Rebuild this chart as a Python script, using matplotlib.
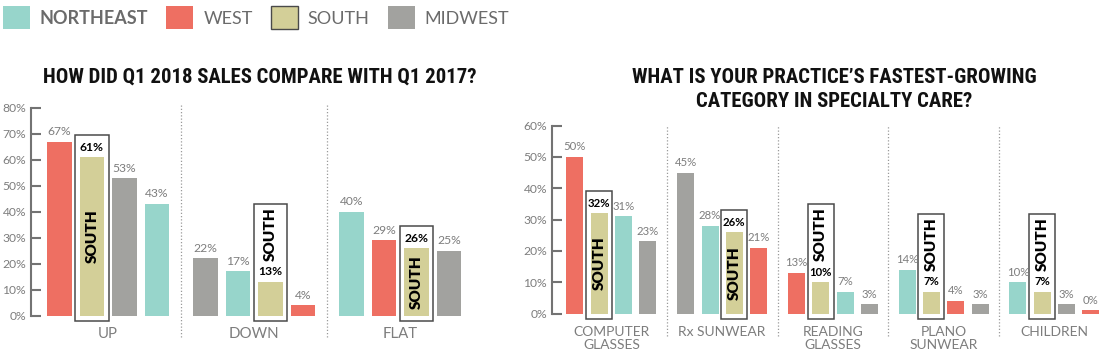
import numpy as np
import matplotlib
matplotlib.use("Agg")
import matplotlib.pyplot as plt
from matplotlib.patches import Patch, Rectangle

# ---------------- data ----------------
regions = ["NORTHEAST", "WEST", "SOUTH", "MIDWEST"]
region_colors = ["#97d5cb", "#ee6f62", "#d3cf98", "#a2a29f"]
highlight_region = "SOUTH"

sales_title = "HOW DID Q1 2018 SALES COMPARE WITH Q1 2017?"
sales_categories = ["UP", "DOWN", "FLAT"]
sales_northeast = [43, 17, 40]
sales_west = [67, 4, 29]
sales_south = [61, 13, 26]
sales_midwest = [53, 22, 25]
sales_yticks = [0, 10, 20, 30, 40, 50, 60, 70, 80]

care_title = "WHAT IS YOUR PRACTICE\u2019S FASTEST-GROWING\nCATEGORY IN SPECIALTY CARE?"
care_categories = ["COMPUTER\nGLASSES", "Rx SUNWEAR", "READING\nGLASSES", "PLANO\nSUNWEAR", "CHILDREN"]
care_northeast = [31, 28, 7, 14, 10]
care_west = [50, 21, 13, 4, 0]
care_south = [32, 26, 10, 7, 7]
care_midwest = [23, 45, 3, 3, 3]
care_yticks = [0, 10, 20, 30, 40, 50, 60]

# ---------------- style ----------------
plt.rcParams["font.family"] = ["Lato", "DejaVu Sans"]
TITLE_FONT = ["Roboto Condensed", "Liberation Sans Narrow", "Open Sans Condensed", "DejaVu Sans"]
AXIS_GRAY = "#737373"
TEXT_GRAY = "#7d7d7d"
W, H = 1100, 353
PT = 0.72  # points per pixel at dpi 100

fig = plt.figure(figsize=(W / 100, H / 100), dpi=100)
fig.patch.set_facecolor("white")


def px_axes(left, right, top, bottom):
    return fig.add_axes([left / W, 1 - bottom / H, (right - left) / W, (bottom - top) / H])


def panel(ax, categories, series, yticks, group_px, center0_px, spine_px, right_px,
          pitch_px, width_px, cat_fs, cat_pad, div_lo, div_hi, val_fs):
    ymax = yticks[-1]
    ax_h_px = ax.get_position().height * H
    ppu_y = ax_h_px / ymax
    ppu_x = group_px
    x_left = -(center0_px - spine_px) / group_px
    ax.set_xlim(x_left, x_left + (right_px - spine_px) / group_px)
    ax.set_ylim(0, ymax)
    pitch = pitch_px / group_px
    width = width_px / group_px
    n = len(categories)
    for g in range(n):
        vals = [s[g] for s in series]
        order = sorted(range(len(vals)), key=lambda i: -vals[i])
        for k, i in enumerate(order):
            v = vals[i]
            x = g + (k - (len(vals) - 1) / 2) * pitch
            h = v if v > 0 else 3.5 / ppu_y   # keep a visible sliver for 0%
            ax.bar(x, h, width, color=region_colors[i], zorder=2, linewidth=0)
            is_hl = regions[i] == highlight_region
            ax.annotate(f"{v}%", (x, h), xytext=(0, 10 * PT), textcoords="offset points",
                        ha="center", va="center", fontsize=val_fs,
                        color="black" if is_hl else TEXT_GRAY,
                        fontweight="bold" if is_hl else "normal", zorder=4,
                        annotation_clip=False)
            if is_hl:
                if h * ppu_y > 62:
                    ax.text(x, h / 2, highlight_region, rotation=90, ha="center", va="center",
                            fontsize=11, fontweight="heavy", color="black", zorder=4)
                    top_px = 10 + 12.5
                else:
                    ax.annotate(highlight_region, (x, h), xytext=(0, 21 * PT),
                                textcoords="offset points", rotation=90, ha="center",
                                va="bottom", fontsize=11, fontweight="heavy",
                                color="black", zorder=4, annotation_clip=False)
                    top_px = 10 + 68
                pad = 4.5 / ppu_x
                y0 = -5.5 / ppu_y
                rect = Rectangle((x - width / 2 - pad, y0), width + 2 * pad,
                                 h + top_px / ppu_y - y0, fill=False,
                                 edgecolor="#4a4a4a", linewidth=1.1, zorder=3,
                                 clip_on=False)
                ax.add_patch(rect)
    for g in range(n - 1):
        ax.axvline(g + 0.5, ymin=div_lo, ymax=div_hi, color="#9a9a9a", lw=0.9,
                   linestyle=(0, (1, 1.6)), clip_on=False, zorder=1)
    for s in ["top", "right", "bottom"]:
        ax.spines[s].set_visible(False)
    ax.spines["left"].set_color(AXIS_GRAY)
    ax.spines["left"].set_linewidth(1.5)
    ax.set_yticks(yticks)
    ax.set_yticklabels([f"{t}%" for t in yticks])
    ax.tick_params(axis="y", direction="in", length=10 * PT, width=1.5, color=AXIS_GRAY,
                   labelcolor=TEXT_GRAY, labelsize=8.7, pad=5 * PT)
    ax.set_xticks(range(n))
    ax.set_xticklabels(categories)
    ax.tick_params(axis="x", length=0, labelsize=cat_fs, labelcolor=TEXT_GRAY, pad=cat_pad)
    for t in ax.get_xticklabels():
        t.set_linespacing(1.05)
    ax.set_facecolor("none")


ax1 = px_axes(31, 480, 108, 315.5)
panel(ax1, sales_categories, [sales_northeast, sales_west, sales_south, sales_midwest],
      sales_yticks, group_px=146, center0_px=108.2, spine_px=31, right_px=480,
      pitch_px=32.5, width_px=24.5, cat_fs=10.8, cat_pad=12 * PT,
      div_lo=-0.102, div_hi=1.025, val_fs=8.7)

ax2 = px_axes(552, 1100, 125.5, 313.5)
panel(ax2, care_categories, [care_northeast, care_west, care_south, care_midwest],
      care_yticks, group_px=110.75, center0_px=611.4, spine_px=552, right_px=1100,
      pitch_px=24.3, width_px=17, cat_fs=10, cat_pad=13 * PT,
      div_lo=-0.12, div_hi=1.0, val_fs=8.2)

# titles: pick a size so the first title spans about 435 px in whatever font is found
renderer = fig.canvas.get_renderer()
probe = fig.text(0, 0, sales_title, fontsize=14, fontweight="bold", family=TITLE_FONT,
                 fontstretch="condensed")
w14 = probe.get_window_extent(renderer).width
probe.remove()
title_fs = min(15.5, 14 * 435 / w14)

fig.text(260 / W, 1 - 77 / H, sales_title, ha="center", va="center",
         fontsize=title_fs, fontweight="bold", family=TITLE_FONT, fontstretch="condensed",
         color="#111111")
fig.text(834 / W, 1 - 89.5 / H, care_title, ha="center", va="center",
         fontsize=title_fs, fontweight="bold", family=TITLE_FONT, fontstretch="condensed",
         color="#111111", linespacing=1.28)

# legend
handles = []
for r, c in zip(regions, region_colors):
    if r == highlight_region:
        handles.append(Patch(facecolor=c, edgecolor="#4a4a4a", linewidth=1.0))
    else:
        handles.append(Patch(facecolor=c, edgecolor="none", linewidth=0))
leg = fig.legend(handles, regions, loc="upper left", bbox_to_anchor=(2.7 / W, 1 - 6 / H),
                 ncol=4, frameon=False, fontsize=13, handlelength=1.5, handleheight=1.6,
                 handletextpad=0.55, columnspacing=1.0, borderaxespad=0, borderpad=0,
                 labelcolor="#6b6b6b")
leg.get_texts()[0].set_fontweight("bold")

fig.savefig("out.png", dpi=100)
